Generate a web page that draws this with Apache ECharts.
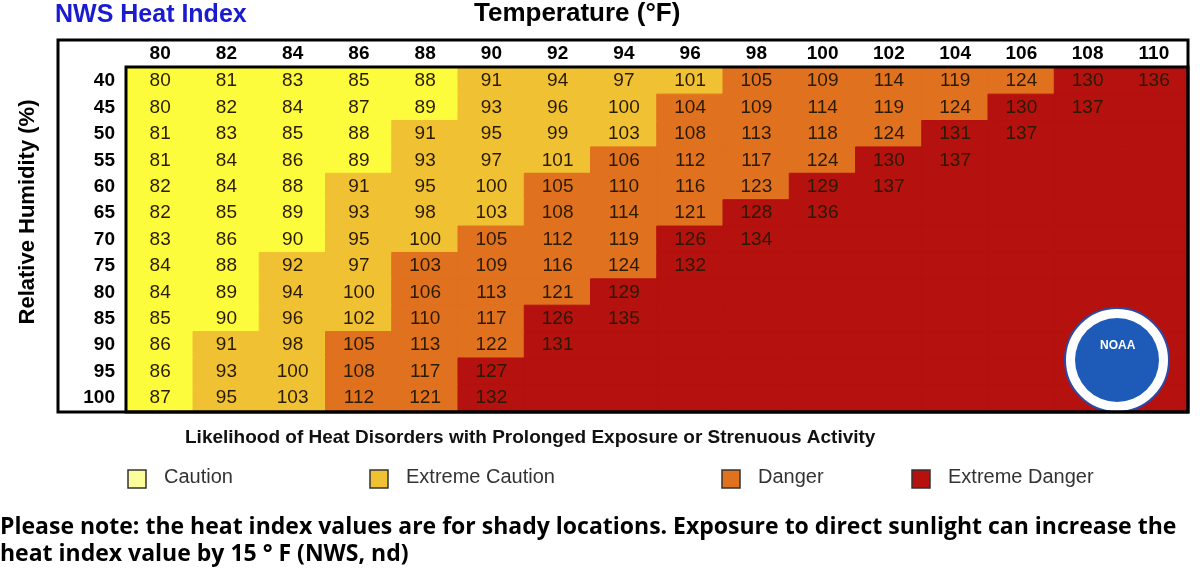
<!DOCTYPE html>
<html><head><meta charset="utf-8">
<script src="https://cdn.jsdelivr.net/npm/echarts@6/dist/echarts.min.js"></script>
<style>html,body{margin:0;background:#fff}#c{width:1200px;height:571px}</style>
</head><body><div id="c"></div>
<script>
var temps = ['80','82','84','86','88','90','92','94','96','98','100','102','104','106','108','110'];
var humidity = ['40','45','50','55','60','65','70','75','80','85','90','95','100'];
// heat index per humidity row (null = off chart)
var hi40  = [80,81,83,85,88,91,94,97,101,105,109,114,119,124,130,136];
var hi45  = [80,82,84,87,89,93,96,100,104,109,114,119,124,130,137,null];
var hi50  = [81,83,85,88,91,95,99,103,108,113,118,124,131,137,null,null];
var hi55  = [81,84,86,89,93,97,101,106,112,117,124,130,137,null,null,null];
var hi60  = [82,84,88,91,95,100,105,110,116,123,129,137,null,null,null,null];
var hi65  = [82,85,89,93,98,103,108,114,121,128,136,null,null,null,null,null];
var hi70  = [83,86,90,95,100,105,112,119,126,134,null,null,null,null,null,null];
var hi75  = [84,88,92,97,103,109,116,124,132,null,null,null,null,null,null,null];
var hi80  = [84,89,94,100,106,113,121,129,null,null,null,null,null,null,null,null];
var hi85  = [85,90,96,102,110,117,126,135,null,null,null,null,null,null,null,null];
var hi90  = [86,91,98,105,113,122,131,null,null,null,null,null,null,null,null,null];
var hi95  = [86,93,100,108,117,127,null,null,null,null,null,null,null,null,null,null];
var hi100 = [87,95,103,112,121,132,null,null,null,null,null,null,null,null,null,null];
var rows = [hi40,hi45,hi50,hi55,hi60,hi65,hi70,hi75,hi80,hi85,hi90,hi95,hi100];
// first column index of Extreme Caution, Danger, Extreme Danger per row
var bandStarts = [[5,9,14],[5,8,13],[4,8,12],[4,7,11],[3,6,10],[3,6,9],[3,5,8],[2,4,8],[2,4,7],[2,4,6],[1,3,6],[1,3,5],[1,3,5]];
var bandNames = ['Caution','Extreme Caution','Danger','Extreme Danger'];
var cellColors = ['#fcfc3c','#f0c233','#e0711e','#b4110f'];
var swatchColors = ['#fdfd9c','#f0c233','#e0711e','#b4110f'];

var data = [];
rows.forEach(function(r, y){
  r.forEach(function(v, x){
    var b = 0;
    bandStarts[y].forEach(function(s){ if (x >= s) b++; });
    data.push({value:[x, y, v == null ? 0 : v], itemStyle:{color:cellColors[b], borderColor:cellColors[b], borderWidth:1}});
  });
});

var chart = echarts.init(document.getElementById('c'));
var legendX = [128, 370, 722, 912];
var g = [
  {type:'rect', shape:{x:58,y:40,width:1130,height:372}, style:{fill:'none',stroke:'#000',lineWidth:3}, z:10},
  {type:'rect', shape:{x:126,y:67,width:1062,height:345}, style:{fill:'none',stroke:'#000',lineWidth:3}, z:10},
  {type:'text', left:55, top:3, style:{text:'NWS Heat Index',font:'bold 25px Arial',fill:'#1a1ad0'}},
  {type:'text', left:474, top:1, style:{text:'Temperature (\u00B0F)',font:'bold 26px Arial',fill:'#000'}},
  {type:'text', x:28, y:212, rotation:Math.PI/2, style:{text:'Relative Humidity (%)',font:'bold 22px Arial',fill:'#000',align:'center',verticalAlign:'middle'}},
  {type:'text', left:185, top:428, style:{text:'Likelihood of Heat Disorders with Prolonged Exposure or Strenuous Activity',font:'bold 19px Arial',fill:'#111'}},
  {type:'text', left:0, top:516, style:{text:'Please note: the heat index values are for shady locations. Exposure to direct sunlight can increase the',font:'bold 23px Open Sans, Arial',fill:'#000'}},
  {type:'text', left:0, top:543, style:{text:'heat index value by 15 \u00B0 F (NWS, nd)',font:'bold 23px Open Sans, Arial',fill:'#000'}},
  {type:'circle', shape:{cx:1117,cy:360,r:52}, style:{fill:'#fff',stroke:'#2a4aa8',lineWidth:2}, z:5},
  {type:'circle', shape:{cx:1117,cy:360,r:42}, style:{fill:'#1e5bb8'}, z:6},
  {type:'text', left:1100, top:340, style:{text:'NOAA',font:'bold 12px Arial',fill:'#fff'}, z:7}
];
bandNames.forEach(function(n, i){
  g.push({type:'rect', shape:{x:legendX[i],y:470,width:18,height:18}, style:{fill:swatchColors[i],stroke:'#333',lineWidth:1.5}});
  g.push({type:'text', left:legendX[i]+36, top:467, style:{text:n,font:'20px Arial',fill:'#333'}});
});

chart.setOption({
  animation:false,
  grid:{left:127,right:13,top:68,bottom:160},
  xAxis:{type:'category', position:'top', data:temps, axisLine:{show:false}, axisTick:{show:false},
    axisLabel:{fontSize:19,fontWeight:'bold',color:'#000',fontFamily:'Arial',margin:5}},
  yAxis:{type:'category', inverse:true, data:humidity, axisLine:{show:false}, axisTick:{show:false},
    axisLabel:{fontSize:19,fontWeight:'bold',color:'#000',fontFamily:'Arial',margin:12}},
  series:[{type:'heatmap', data:data, label:{show:true, fontSize:19, color:'#2a1a00', fontFamily:'Arial',
    formatter:function(p){ return p.value[2] === 0 ? '' : p.value[2]; }}}],
  graphic:g
});
</script></body></html>
